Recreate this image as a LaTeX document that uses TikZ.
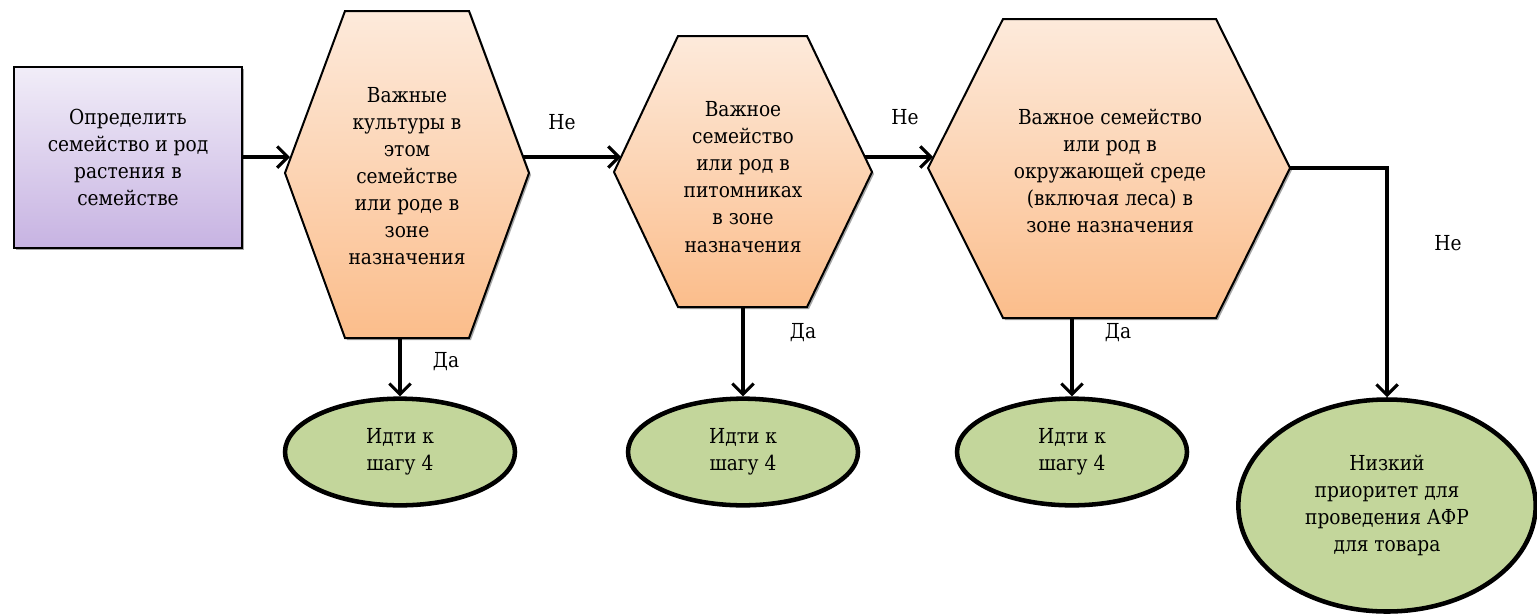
\documentclass[tikz,border=0pt]{standalone}
\usepackage{fontspec}
\setmainfont{DejaVu Serif Condensed}
\usetikzlibrary{shapes.geometric,arrows.meta,shadows}
\begin{document}
\begin{tikzpicture}[x=0.75pt,y=-0.75pt,
  txt/.style={font=\rmfamily\fontsize{15.5}{20.3}\selectfont, align=center, inner sep=0pt},
  lbl/.style={font=\rmfamily\fontsize{15.5}{20}\selectfont, inner sep=0pt},
  hexfill/.style={draw=black, line width=1.5pt, line join=miter, top color=orangetop, bottom color=orangebot,
     drop shadow={shadow xshift=1.5pt, shadow yshift=-1.5pt, opacity=0.35, fill=black}},
  startbox/.style={rectangle, draw=black, line width=1.5pt, top color=lavtop, bottom color=lavbot,
     minimum width=171pt, minimum height=135.75pt, txt,
     drop shadow={shadow xshift=1.5pt, shadow yshift=-1.5pt, opacity=0.35, fill=black}},
  endell/.style={ellipse, draw=black, line width=3.4pt, fill=greenfill, txt},
  conn/.style={line width=2.3pt, -{Straight Barb[length=8pt,width=16pt,line width=2.3pt]}}
]
\definecolor{orangetop}{HTML}{FDEADB}
\definecolor{orangebot}{HTML}{FBBD8B}
\definecolor{lavtop}{HTML}{F1EDF8}
\definecolor{lavbot}{HTML}{C7B3E2}
\definecolor{greenfill}{HTML}{C3D69B}
\useasboundingbox (0,0) rectangle (1537,615);

% start box
\node[startbox] (s) at (128,157.5) {Определить\\семейство и род\\растения в\\семействе};

% hexagon 1
\path[hexfill] (345,11) -- (469,11) -- (529,173) -- (469,338) -- (345,338) -- (285,173) -- cycle;
\node[txt] (h1) at (407,176) {Важные\\культуры в\\этом\\семействе\\или роде в\\зоне\\назначения};
% hexagon 2
\path[hexfill] (678,36) -- (807,36) -- (872,172) -- (807,307) -- (678,307) -- (614,172) -- cycle;
\node[txt] (h2) at (743,177) {Важное\\семейство\\или род в\\питомниках\\в зоне\\назначения};
% hexagon 3
\path[hexfill] (1003,19) -- (1216,19) -- (1290,168) -- (1216,318) -- (1003,318) -- (928,168) -- cycle;
\node[txt] (h3) at (1110,171) {Важное семейство\\или род в\\окружающей среде\\(включая леса) в\\зоне назначения};

% hexagon anchor coordinates
\coordinate (h1in) at (290,157);
\coordinate (h1out) at (523,157);
\coordinate (h1b) at (400,338);
\coordinate (h2in) at (621,157);
\coordinate (h2out) at (865,157);
\coordinate (h2b) at (743,307);
\coordinate (h3in) at (933,157);
\coordinate (h3r) at (1290,168);
\coordinate (h3b) at (1072,318);

% end ellipses
\node[endell, minimum width=172.5pt, minimum height=80pt] (e1) at (400,452) {Идти к\\шагу 4};
\node[endell, minimum width=172.5pt, minimum height=80pt] (e2) at (743,452) {Идти к\\шагу 4};
\node[endell, minimum width=172.5pt, minimum height=80pt] (e3) at (1072,452) {Идти к\\шагу 4};
\node[endell, minimum width=223pt, minimum height=159pt] (e4) at (1387,505.5) {Низкий\\приоритет для\\проведения АФР\\для товара};

% connectors
\draw[conn] (s.east |- h1in) -- (h1in);
\draw[conn] (h1out) -- (h2in);
\draw[conn] (h2out) -- (h3in);
\draw[conn] (h1b) -- (e1.north);
\draw[conn] (h2b) -- (e2.north);
\draw[conn] (h3b) -- (e3.north);
\draw[conn] (h3r) -| (e4.north);

% labels
\node[lbl] (l1) at (562,122) {Не};
\node[lbl] (l2) at (905,117) {Не};
\node[lbl] (l3) at (1448,243) {Не};
\node[lbl] (l4) at (446,362) {Да};
\node[lbl] (l5) at (803,333) {Да};
\node[lbl] (l6) at (1118,333) {Да};
\end{tikzpicture}
\end{document}
